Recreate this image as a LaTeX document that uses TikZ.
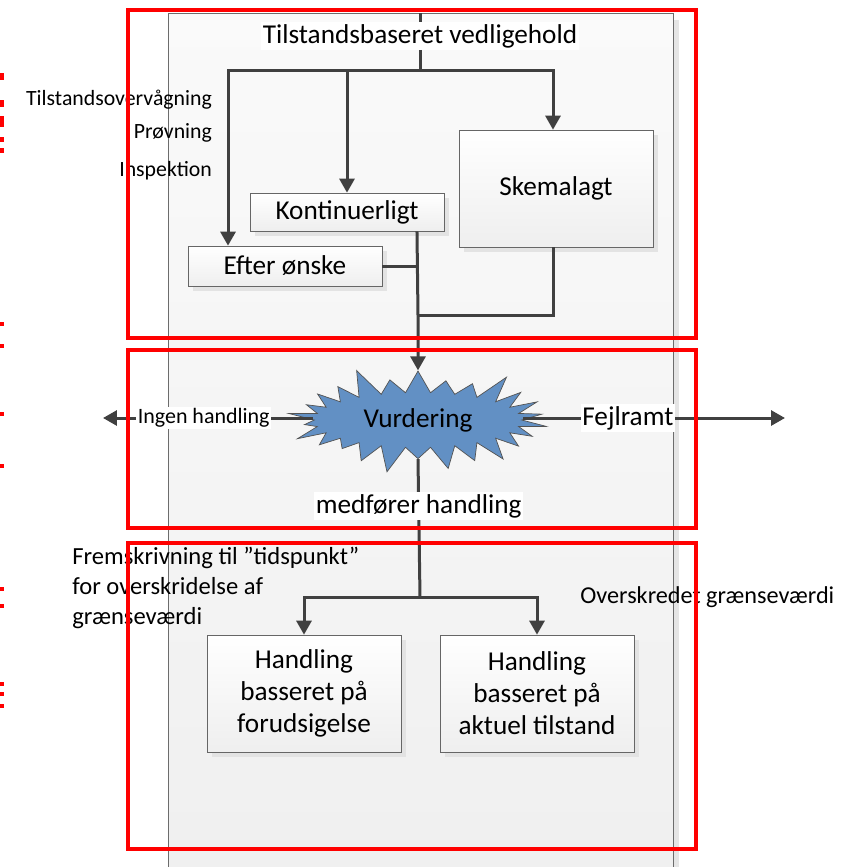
\documentclass[tikz,border=0pt]{standalone}
\usepackage{fontspec}
\setmainfont{Carlito}
\usepackage{tikz}
\usetikzlibrary{arrows.meta,shapes.symbols,positioning,shadows}

\definecolor{linegray}{RGB}{64,64,64}
\definecolor{burstblue}{RGB}{98,144,196}

\begin{document}
\begin{tikzpicture}
    [
    x=0.02cm, y=-0.02cm,
    box/.style = {draw=gray!80!black, rectangle, top color=white, bottom color=gray!13, drop shadow={shadow xshift=0.1cm, shadow yshift=-0.1cm, fill=gray!22, opacity=1}, minimum width=3.88cm, text centered, inner sep=0pt, font=\fontsize{15.5}{18.2}\selectfont},
    arrow/.style = {-{Triangle[length=0.28cm,width=0.3cm]}, line width=0.06cm, draw=linegray},
    link/.style = {line width=0.06cm, draw=linegray},
    frame/.style = {draw=red, line width=0.08cm},
    small/.style = {inner sep=1pt, font=\fontsize{12.4}{14}\selectfont},
    big/.style = {inner sep=1pt, font=\fontsize{15.5}{18.2}\selectfont}
    ]
    \useasboundingbox (0,0) rectangle (852,867);

% Panel
    \fill[gray!20] (673,20) rectangle (679,880);
    \draw[gray!85!black, top color=white!98!black, bottom color=gray!12] (168,13) rectangle (673,880);

% Nodes
    \node[big, fill=white] (title) at (420,36) {Tilstandsbaseret vedligehold};
    \node[box, minimum height=2.34cm] (skema) at (556,188.5) {Skemalagt};
    \node[box, minimum height=0.76cm] (kont) at (347,212) {Kontinuerligt};
    \node[box, minimum height=0.8cm] (efter) at (285,266) {Efter ønske};
    \node[draw=linegray!90, fill=burstblue, starburst, starburst points=26, starburst point height=0.6cm, minimum width=5.35cm, minimum height=2.3cm, font=\fontsize{15.5}{18.2}\selectfont] (vurd) at (418,420) {Vurdering};
    \node[box, minimum height=2.34cm, align=center] (forud) at (304,693.5) {Handling\\basseret på\\forudsigelse};
    \node[box, minimum height=2.34cm, align=center] (aktuel) at (537,693.5) {Handling\\basseret på\\aktuel tilstand};

    \coordinate (top) at (420,13);
    \coordinate (split) at (420,70);
    \coordinate (join) at (418,315);
    \coordinate (split2) at (420,597);
    \coordinate (ingenend) at (103,418);
    \coordinate (fejlend) at (785,418);

% Arrows
    \draw[link] (top) -- (title.north);
    \draw[link] (title.south) -- (split);
    \draw[arrow] (split) -| ([xshift=-0.06cm]skema.north);
    \draw[arrow] (split) -| (kont.north);
    \draw[arrow] (split) -| ([xshift=-1.14cm]efter.north);
    \draw[link] ([xshift=1.4cm]kont.south) -- (join);
    \draw[link] (efter.east) -- (efter.east -| join);
    \draw[link] ([xshift=-0.06cm]skema.south) |- (join);
    \draw[arrow] (join) -- (vurd.north);
    \draw[arrow] (vurd.west |- ingenend) -- node[small, fill=white, pos=0.52, font=\fontsize{12.5}{15}\selectfont] {Ingen handling} (ingenend);
    \draw[arrow] (vurd.east |- fejlend) -- node[big, fill=white, pos=0.4] {Fejlramt} (fejlend);
    \draw[link] (vurd.south) -- node[big, fill=white, pos=0.34] {medfører handling} (split2);
    \draw[arrow] (split2) -| (forud.north);
    \draw[arrow] (split2) -| (aktuel.north);

% Labels
    \node[small, anchor=east] (overv) at (214,100) {Tilstandsovervågning};
    \node[small, anchor=east] (provning) at (214,133) {Prøvning};
    \node[small, anchor=east] (inspek) at (214,171) {Inspektion};
    \node[inner sep=0pt, anchor=north west, align=left, font=\fontsize{14}{17}\selectfont] (fremskr) at (72,547) {Fremskrivning til ”tidspunkt”\\for overskridelse af\\grænseværdi};
    \node[inner sep=0pt, anchor=west, font=\fontsize{13.8}{16}\selectfont] (oversk) at (580,597) {Overskredet grænseværdi};

% Frames
    \draw[frame] (128,10) rectangle (696,338);
    \draw[frame] (128,350) rectangle (696,528);
    \draw[frame] (128,543) rectangle (696,849);
    \foreach \ry/\rh in {73/7, 100/7, 116/11, 137/5, 148/5, 322/4, 344/4, 412/4, 464/4, 587/4, 604/4, 682/4, 692/4, 704/4}
        \fill[red] (0,\ry) rectangle (4,\ry+\rh);

\end{tikzpicture}
\end{document}
